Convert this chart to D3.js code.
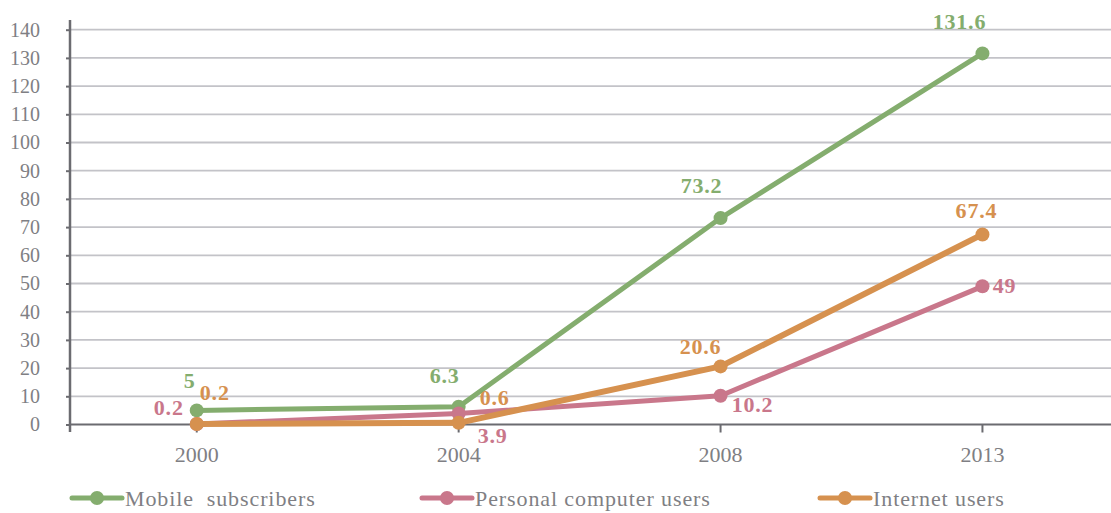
<!DOCTYPE html>
<html>
<head>
<meta charset="utf-8">
<script src="https://cdn.jsdelivr.net/npm/d3@7"></script>
<style>
  html, body { margin: 0; padding: 0; background: #fff; }
  svg { display: block; }
  text { font-family: "Liberation Serif", "DejaVu Serif", serif; }
</style>
</head>
<body>
<svg id="chart" width="1111" height="513"></svg>
<script>
// ---- Data ----
const years = ["2000", "2004", "2008", "2013"];
const mobileSubscribers = [5, 6.3, 73.2, 131.6];
const pcUsers = [0.2, 3.9, 10.2, 49];
const internetUsers = [0.2, 0.6, 20.6, 67.4];
const seriesNames = ["Mobile  subscribers", "Personal computer users", "Internet users"];
const yTicks = d3.range(0, 141, 10);

// ---- Styling / placement (not data) ----
const colors = ["#84ad6e", "#c9778b", "#d6914f"];
const lineWidths = [5, 5, 6];
// label offsets (dx, dy) from each point, per series
const labelOffsets = [
  [[-7, -22], [-14, -24], [-19, -25], [-23, -24]],
  [[-28, -9], [34, 29], [32, 16], [22, 7]],
  [[18, -24], [36, -18], [-20, -12], [-6, -16]]
];

const series = [mobileSubscribers, pcUsers, internetUsers];

const svg = d3.select("#chart");
const left = 70, right = 1111;

const x = d3.scaleBand().domain(years).range([65.8, 1113.4]);
const y = d3.scaleLinear().domain([0, 140]).range([424.5, 29.7]);
const cx = d => x(d) + x.bandwidth() / 2;

// gridlines
svg.append("g").selectAll("line")
  .data(yTicks.filter(t => t > 0))
  .join("line")
  .attr("x1", left).attr("x2", right)
  .attr("y1", d => y(d)).attr("y2", d => y(d))
  .attr("stroke", "#c3c3c8").attr("stroke-width", 1.8);

// y axis
const yAxis = svg.append("g").attr("transform", `translate(${left},0)`)
  .call(d3.axisLeft(y).tickValues(yTicks).tickSize(4).tickPadding(26).tickFormat(d3.format("d")));
yAxis.select(".domain").remove();
yAxis.selectAll(".tick line").attr("stroke", "#6b6b70").attr("stroke-width", 2);
yAxis.selectAll(".tick text").attr("fill", "#7f7f84").attr("font-size", 20)
  .attr("font-family", "Liberation Serif, serif");
svg.append("line").attr("x1", left).attr("x2", left).attr("y1", 20).attr("y2", 432)
  .attr("stroke", "#6b6b70").attr("stroke-width", 2.5);

// x axis
const xAxis = svg.append("g").attr("transform", `translate(0,${y(0)})`)
  .call(d3.axisBottom(x).tickSize(8).tickPadding(14));
xAxis.select(".domain").remove();
xAxis.selectAll(".tick line").attr("stroke", "#6b6b70").attr("stroke-width", 2);
xAxis.selectAll(".tick text").attr("fill", "#7f7f84").attr("font-size", 22)
  .attr("font-family", "Liberation Serif, serif");
svg.append("line").attr("x1", left).attr("x2", right).attr("y1", y(0)).attr("y2", y(0))
  .attr("stroke", "#6b6b70").attr("stroke-width", 2.2);

// lines and markers
const line = d3.line().x((d, i) => cx(years[i])).y(d => y(d));
series.forEach((vals, s) => {
  const g = svg.append("g");
  g.append("path").datum(vals).attr("d", line)
    .attr("fill", "none").attr("stroke", colors[s]).attr("stroke-width", lineWidths[s])
    .attr("stroke-linejoin", "round").attr("stroke-linecap", "round");
  g.selectAll("circle").data(vals).join("circle")
    .attr("cx", (d, i) => cx(years[i])).attr("cy", d => y(d)).attr("r", 7)
    .attr("fill", colors[s]);
});

// data labels
series.forEach((vals, s) => {
  svg.append("g").selectAll("text").data(vals).join("text")
    .attr("x", (d, i) => cx(years[i]) + labelOffsets[s][i][0])
    .attr("y", (d, i) => y(d) + labelOffsets[s][i][1])
    .attr("text-anchor", "middle")
    .attr("font-size", 22).attr("font-weight", "bold")
    .attr("letter-spacing", 0.8)
    .attr("fill", colors[s])
    .text(d => d);
});

// legend
const legendX = [72, 422, 820];
const legend = svg.append("g");
seriesNames.forEach((name, s) => {
  const g = legend.append("g").attr("transform", `translate(${legendX[s]},498)`);
  g.append("line").attr("x1", 0).attr("x2", 50).attr("y1", 0).attr("y2", 0)
    .attr("stroke", colors[s]).attr("stroke-width", 5).attr("stroke-linecap", "round");
  g.append("circle").attr("cx", 25).attr("cy", 0).attr("r", 7).attr("fill", colors[s]);
  g.append("text").attr("x", 53).attr("y", 8).attr("font-size", 22)
    .attr("letter-spacing", 0.9)
    .style("white-space", "pre")
    .attr("fill", "#7f7f84").text(name);
});
</script>
</body>
</html>
